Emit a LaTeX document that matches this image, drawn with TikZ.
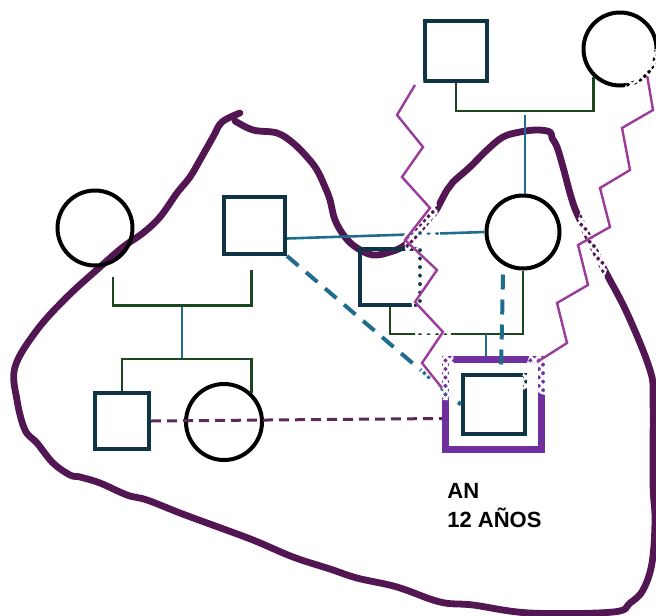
\documentclass[tikz,border=0pt]{standalone}
\usepackage{fontspec}
\setsansfont{Liberation Sans}
\usetikzlibrary{patterns.meta}

\definecolor{squareteal}{RGB}{14,52,70}
\definecolor{linkblue}{RGB}{31,108,140}
\definecolor{bargreen}{RGB}{28,70,32}
\definecolor{blobplum}{RGB}{82,22,82}
\definecolor{indexpurple}{RGB}{112,48,160}
\definecolor{zigpurple}{RGB}{155,60,155}
\definecolor{distantplum}{RGB}{92,40,92}

\tikzset{
  male/.style={rectangle, draw=squareteal, line width=2pt, inner sep=0pt,
    minimum width=30pt, minimum height=29pt},
  female/.style={circle, draw=black, line width=2pt, inner sep=0pt, minimum size=36.5pt},
  indexbox/.style={rectangle, draw=indexpurple, line width=3.5pt, inner sep=0pt,
    minimum width=48pt, minimum height=45pt},
  marriage/.style={draw=bargreen, line width=1.4pt},
  descent/.style={draw=linkblue, line width=1.3pt},
  closelink/.style={draw=linkblue, line width=2pt, dash pattern=on 7.5pt off 5pt},
  distant/.style={draw=distantplum, line width=1.5pt, dash pattern=on 5pt off 3pt},
  conflict/.style={draw=zigpurple, line width=1.2pt},
  blob/.style={draw=blobplum, line width=3.4pt, line cap=round, line join=round},
  meshfaint/.style={pattern={Hatch[distance=3pt,angle=45,line width=0.3pt]}, pattern color=zigpurple!8},
  meshcut/.style={pattern={Hatch[distance=3pt,angle=45,line width=1.3pt]}, pattern color=white},
  agelabel/.style={font=\sffamily\bfseries\fontsize{11}{14.5}\selectfont, align=left, inner sep=0pt}
}

\begin{document}
\begin{tikzpicture}[x=0.5pt, y=-0.5pt]
  \useasboundingbox (0,0) rectangle (656,615);

  % faint mesh under the hostile links
  \fill[meshfaint] (383,60) -- (421,60) -- (458,400) -- (423,400) -- cycle;
  \fill[meshfaint] (640,45) -- (676,55) -- (565,400) -- (518,388) -- cycle;

  % household outline
  \draw[blob] plot[smooth, tension=0.6] coordinates {(240,113) (222,122) (213,137) (200,160)
    (190,177) (177,193) (160,217) (143,233) (123,247) (100,267) (67,297) (37,330) (15,367)
    (17,400) (25,430) (37,443) (53,463) (70,475) (80,477) (100,483) (127,495) (147,500)
    (180,513) (207,523) (253,540) (293,557) (330,569) (357,578) (397,587) (440,602) (473,605)
    (530,613) (613,612) (630,603) (643,590) (652,563) (655,520) (653,483) (653,400) (650,370)
    (627,313) (603,267) (580,220) (572,200) (563,167) (557,147) (552,138) (550,132) (537,130)
    (520,132) (503,137) (487,150) (470,167) (453,182) (447,190) (440,203) (435,212) (430,217)
    (422,227) (405,245) (390,252) (373,255) (357,248) (345,237) (335,220) (330,200) (325,187)
    (317,170) (307,157) (293,143) (277,133) (253,130) (235,121)};

  % people
  \node[male, minimum width=31pt, minimum height=30pt] (gf) at (456,51) {};
  \node[female] (gm) at (620,49) {};
  \node[female, minimum size=37.5pt] (lm) at (95,228) {};
  \node[male, minimum width=30.5pt, minimum height=28.5pt] (fa) at (254.5,225.5) {};
  \node[female] (mo) at (523,232) {};
  \node[male, minimum height=28pt] (st) at (390,277) {};
  \node[male, minimum width=27pt, minimum height=28pt] (br) at (122,421) {};
  \node[female, minimum size=38pt] (si) at (224,422) {};
  \node[indexbox] (anbox) at (493.5,404.5) {};
  \node[male, minimum width=31pt, minimum height=29.5pt] (an) at (494,404.5) {};

  \node[agelabel, anchor=north west] (anlabel) at (447,483) {AN\\12 AÑOS};

  % couples and children
  \coordinate (gpbar) at (525,115);
  \coordinate (lmbar) at (182,307);
  \coordinate (sibbar) at (182,359);
  \coordinate (stbar) at (486,334);

  \draw[marriage] (gf.south) -- ++(0,28) -| (gm.227);
  \draw[descent] (gpbar) -- (gpbar |- mo.north);
  \draw[marriage] ([shift={(18,9)}]lm.south) -- ++(0,29) -| ([shift={(-3,14)}]fa.south);
  \draw[descent] (lmbar) -- (sibbar);
  \draw[marriage] (br.north) |- (sibbar) -| (si.46);
  \draw[marriage] (st.south) -- ++(0,27) -| (mo.south);
  \draw[descent] (stbar) -- (stbar |- anbox.north);

  % other links
  \draw[descent] ([shift={(0,13)}]fa.east) -- (mo.west);
  \draw[closelink] (fa.south east) -- (an.west);
  \draw[closelink] ([shift={(-20,4)}]mo.south) -- ([shift={(7,0)}]an.north);
  \draw[distant] (br.east) -- ([shift={(0,14)}]anbox.west);

  % hostile links
  \fill[meshcut] (383,60) -- (421,60) -- (458,400) -- (423,400) -- cycle;
  \fill[meshcut] (640,45) -- (676,55) -- (565,400) -- (518,388) -- cycle;
  \draw[conflict] ([shift={(-8,2)}]gf.south west) -- (397,115) -- (423,147) -- (402,177)
    -- (430,208) -- (405,240) -- (437,270) -- (415,302) -- (443,332) -- (422,363)
    -- ([shift={(0,32)}]anbox.north west);
  \draw[conflict] (gm.-45) -- (653,110) -- (622,128) -- (630,170) -- (600,188) -- (610,227)
    -- (578,245) -- (588,285) -- (557,303) -- (567,343) -- ([shift={(-8,6)}]anbox.north east);
\end{tikzpicture}
\end{document}
